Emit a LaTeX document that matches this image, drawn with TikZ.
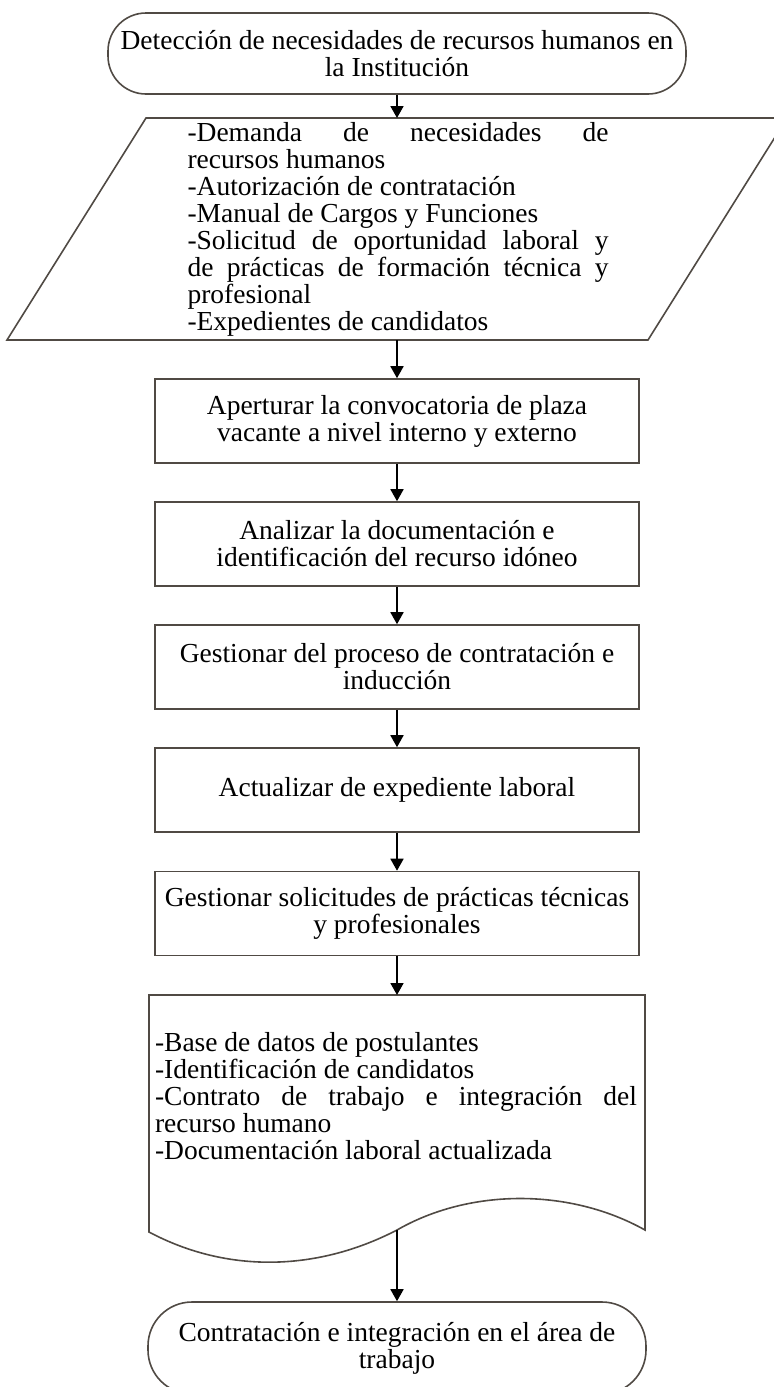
\documentclass[tikz,border=0pt]{standalone}
\usepackage{fontspec}
\setmainfont{Liberation Serif}
\usetikzlibrary{arrows.meta}
\definecolor{edge}{RGB}{80,74,68}
\hbadness=10000
\begin{document}
\begin{tikzpicture}[x=0.5pt,y=-0.5pt,
  txt/.style={font=\fontsize{13.75pt}{13.5pt}\selectfont},
  procbox/.style={draw=edge, line width=0.8pt, minimum width=242pt, minimum height=42pt, inner sep=0pt, align=center, txt},
  term/.style={draw=edge, line width=0.8pt, inner sep=0pt, align=center, txt},
  shapeline/.style={draw=edge, line width=0.8pt},
  flow/.style={-{Triangle[length=6pt,width=6.5pt]}, line width=0.9pt, black}]

\useasboundingbox (0,0) rectangle (774,1387);
\clip (0,0) rectangle (774,1387);

% start terminator
\node[term, rounded corners=19pt, minimum width=289pt, minimum height=40.5pt] (start) at (397,53.5)
  {Detección de necesidades de recursos humanos en\\la Institución};

% input parallelogram
\draw[shapeline] (146,118) -- (787,118) -- (648,340) -- (7,340) -- cycle;
\coordinate (ptop) at (397,118);
\coordinate (pbot) at (397,340);
\node[txt, inner sep=0pt] (inputs) at (398,229) {\parbox{210.5pt}{%
-Demanda de necesidades de\linebreak recursos humanos\\
-Autorización de contratación\\
-Manual de Cargos y Funciones\\
-Solicitud de oportunidad laboral y\linebreak de prácticas de formación técnica y\linebreak profesional\\
-Expedientes de candidatos}};

% process boxes
\node[procbox] (b1) at (397,421) {Aperturar la convocatoria de plaza\\vacante a nivel interno y externo};
\node[procbox] (b2) at (397,544) {Analizar la documentación e\\identificación del recurso idóneo};
\node[procbox] (b3) at (397,667) {Gestionar del proceso de contratación e\\inducción};
\node[procbox] (b4) at (397,790) {Actualizar de expediente laboral};
\node[procbox] (b5) at (397,913.5) {Gestionar solicitudes de prácticas técnicas\\y profesionales};

% document shape
\draw[shapeline] (149,995) -- (645,995) -- (645,1230)
  .. controls (570,1188) and (470,1188) .. (397,1230)
  .. controls (320,1270) and (230,1275) .. (149,1232) -- cycle;
\coordinate (doctop) at (397,995);
\coordinate (docwave) at (397,1230);
\node[txt, inner sep=0pt] (outputs) at (396,1096) {\parbox{241pt}{%
-Base de datos de postulantes\\
-Identificación de candidatos\\
-Contrato de trabajo e integración del\linebreak recurso humano\\
-Documentación laboral actualizada}};

% end terminator
\node[term, rounded corners=22pt, minimum width=249pt, minimum height=46pt] (end) at (397,1348)
  {Contratación e integración en el área de\\trabajo};

% connectors
\draw[flow] (start.south) -- (ptop);
\draw[flow] (pbot) -- (b1.north);
\draw[flow] (b1.south) -- (b2.north);
\draw[flow] (b2.south) -- (b3.north);
\draw[flow] (b3.south) -- (b4.north);
\draw[flow] (b4.south) -- (b5.north);
\draw[flow] (b5.south) -- (doctop);
\draw[flow] (docwave) -- (end.north);
\end{tikzpicture}
\end{document}
